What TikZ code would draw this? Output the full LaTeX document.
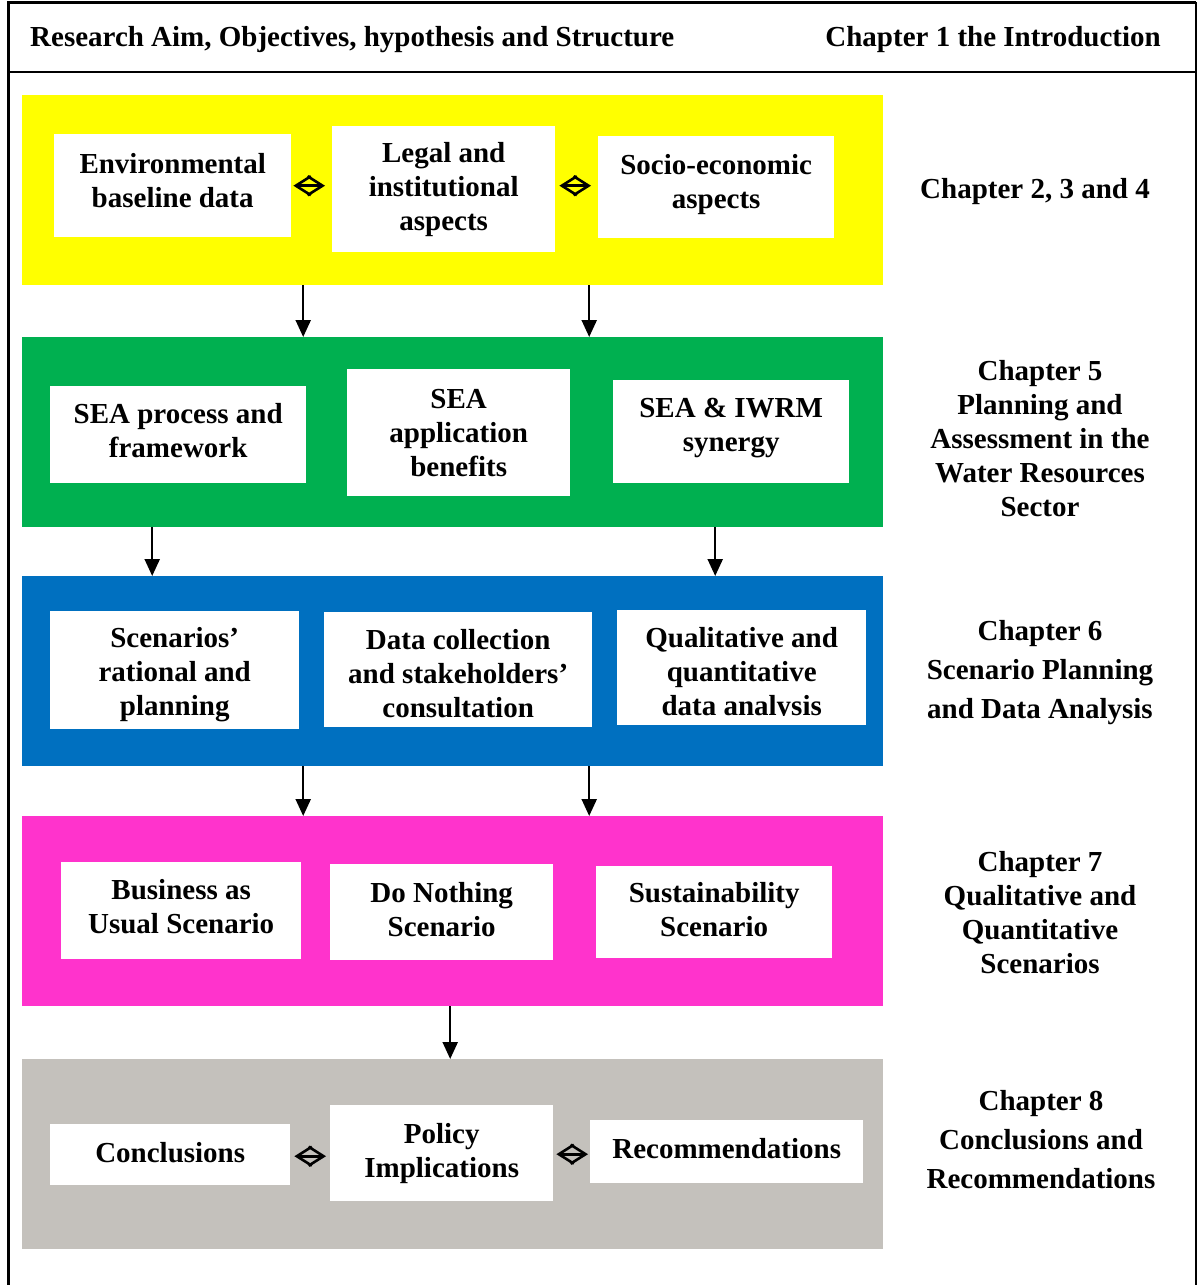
\documentclass[tikz,border=0pt]{standalone}
\usepackage{fontspec}
\setmainfont{Liberation Serif}
\usetikzlibrary{arrows.meta}
\definecolor{cyel}{HTML}{FFFF00}
\definecolor{cgrn}{HTML}{00B050}
\definecolor{cblu}{HTML}{0070C0}
\definecolor{cmag}{HTML}{FF33CC}
\definecolor{cgry}{HTML}{C4C1BC}
% #1 name, #2 x, #3 y, #4 w, #5 h, #6 text shift up (pt), #7 text
\newcommand\mybox[7]{%
  \node[wbox,minimum width=#4,minimum height=#5] (#1) at (#2,#3) {};
  \node[lbl] (#1t) at ([yshift=#6pt]#1.center) {#7};
}
\begin{document}
\begin{tikzpicture}[x=1pt,y=-1pt,
  txtfont/.style={font=\bfseries\fontsize{29}{34}\selectfont},
  band/.style={inner sep=0pt,anchor=north west,minimum width=861,minimum height=190},
  wbox/.style={fill=white,inner sep=0pt,anchor=north west},
  lbl/.style={align=center,txtfont,inner sep=0pt},
  lblwide/.style={align=center,font=\bfseries\fontsize{29}{39}\selectfont,inner sep=0pt},
  arr/.style={line width=2.3pt,-{Triangle[length=17pt,width=15pt]}},
  dbl/.style={line width=2.6pt,{Straight Barb[length=15pt,width=19pt]}-{Straight Barb[length=15pt,width=19pt]}}
]
\useasboundingbox (0,0) rectangle (1198,1285);
% frame
\draw[line width=3pt] (8,1285) -- (8,2) -- (1196,2);
\draw[line width=1.5pt] (1196,2) -- (1196,1285);
\draw[line width=2pt] (8,72) -- (1196,72);
\node[lbl,anchor=west] (h1) at (30,40) {Research Aim, Objectives, hypothesis and Structure};
\node[lbl,anchor=east] (h2) at (1161,40) {Chapter 1 the Introduction};

% bands
\node[band,fill=cyel] (yb) at (22,95) {};
\node[band,fill=cgrn] (gb) at (22,337) {};
\node[band,fill=cblu] (bb) at (22,576) {};
\node[band,fill=cmag] (mb) at (22,816) {};
\node[band,fill=cgry] (rb) at (22,1059) {};

% yellow boxes
\mybox{env}{54}{134}{237}{103}{5}{Environmental\\baseline data}
\mybox{legal}{332}{126}{223}{126}{0}{Legal and\\institutional\\aspects}
\mybox{socio}{598}{136}{236}{102}{3}{Socio-economic\\aspects}
% green boxes
\mybox{seap}{50}{386}{256}{97}{4}{SEA process and\\framework}
\mybox{seaa}{347}{369}{223}{127}{0}{SEA\\application\\benefits}
\mybox{seai}{613}{380}{236}{103}{4}{SEA \& IWRM\\synergy}
% blue boxes
\mybox{scen}{50}{611}{249}{118}{-4}{Scenarios’\\rational and\\planning}
\mybox{data}{324}{612}{268}{115}{-4}{Data collection\\and stakeholders’\\consultation}
\node[wbox,minimum width=249,minimum height=115] (qual) at (617,610) {};
\begin{scope}
\clip (qual.north west) rectangle ([yshift=10pt]qual.south east);
\node[lbl] (qualt) at ([yshift=-7pt]qual.center) {Qualitative and\\quantitative\\data analysis};
\end{scope}
% magenta boxes
\mybox{bau}{61}{862}{240}{97}{4}{Business as\\Usual Scenario}
\mybox{dono}{330}{864}{223}{96}{3}{Do Nothing\\Scenario}
\mybox{sust}{596}{866}{236}{92}{3}{Sustainability\\Scenario}
% gray boxes
\mybox{conc}{50}{1124}{240}{61}{2}{Conclusions}
\mybox{poli}{330}{1105}{223}{96}{0}{Policy\\Implications}
\mybox{reco}{590}{1120}{273}{63}{3}{Recommendations}

% chapter labels
\node[lbl] (c2) at (1035,192) {Chapter 2, 3 and 4};
\node[lbl] (c5) at (1040,439) {Chapter 5\\Planning and\\Assessment in the\\Water Resources\\Sector};
\node[lblwide] (c6) at (1040,673) {Chapter 6\\Scenario Planning\\and Data Analysis};
\node[lbl] (c7) at (1040,913) {Chapter 7\\Qualitative and\\Quantitative\\Scenarios};
\node[lblwide] (c8) at (1041,1140) {Chapter 8\\Conclusions and\\Recommendations};

% down arrows
\draw[arr] ([xshift=-149.5pt]yb.south) -- ([xshift=-149.5pt]gb.north);
\draw[arr] ([xshift=136.5pt]yb.south) -- ([xshift=136.5pt]gb.north);
\draw[arr] ([xshift=-300.5pt]gb.south) -- ([xshift=-300.5pt]bb.north);
\draw[arr] ([xshift=262.5pt]gb.south) -- ([xshift=262.5pt]bb.north);
\draw[arr] ([xshift=-149.5pt]bb.south) -- ([xshift=-149.5pt]mb.north);
\draw[arr] ([xshift=136.5pt]bb.south) -- ([xshift=136.5pt]mb.north);
\draw[arr] ([xshift=-2.5pt]mb.south) -- ([xshift=-2.5pt]rb.north);

% double arrows
\draw[dbl,shorten <=2pt,shorten >=7pt] (env.east) -- (env.east -| legal.west);
\draw[dbl,shorten <=4pt,shorten >=7pt] (legal.east |- env.east) -- (socio.west |- env.east);
\draw[dbl,shorten <=4pt,shorten >=4pt] (conc.east) ++(0,1.5) coordinate (ca) (ca) -- (ca -| poli.west);
\draw[dbl,shorten <=3pt,shorten >=2pt] (poli.east |- reco.east) ++(0,2.5) coordinate (pa) (pa) -- (pa -| reco.west);
\end{tikzpicture}
\end{document}
